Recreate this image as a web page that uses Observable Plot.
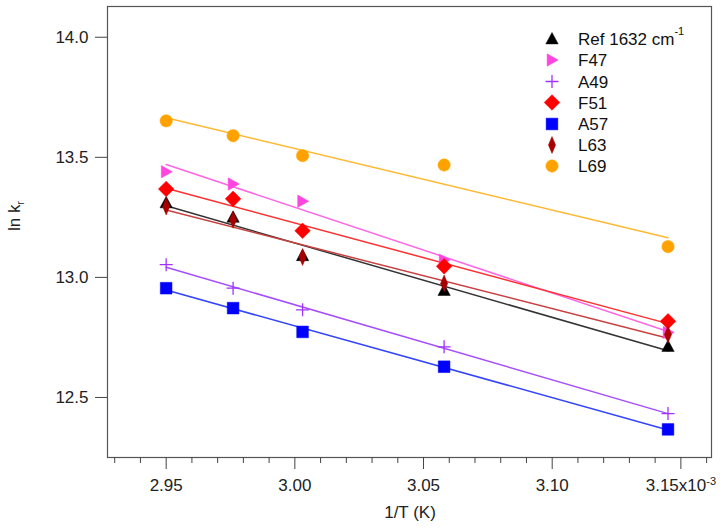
<!DOCTYPE html>
<html>
<head>
<meta charset="utf-8">
<script src="https://cdn.jsdelivr.net/npm/d3@7"></script>
<script src="https://cdn.jsdelivr.net/npm/@observablehq/plot@0.6"></script>
<style>
  html, body { margin: 0; padding: 0; background: #fff; }
  #chart { width: 720px; height: 529px; }
</style>
</head>
<body>
<div id="chart"></div>
<script>
// 1/T values (x10^-3 K^-1)
const invT = [2.950, 2.976, 3.003, 3.058, 3.145];

// ln k_r values per series
const seriesNames = ["Ref 1632 cm", "F47", "A49", "F51", "A57", "L63", "L69"];
const refVals = [13.310, 13.250, 13.090, 12.945, 12.712];
const f47Vals = [13.440, 13.389, 13.317, 13.072, 12.771];
const a49Vals = [13.053, 12.955, 12.865, 12.711, 12.433];
const f51Vals = [13.368, 13.327, 13.194, 13.046, 12.817];
const a57Vals = [12.955, 12.872, 12.773, 12.628, 12.367];
const l63Vals = [13.295, 13.240, 13.085, 12.975, 12.762];
const l69Vals = [13.652, 13.590, 13.507, 13.468, 13.128];

const markerColors = ["#000000", "#ff44e0", "#a033ff", "#ff0000", "#0000ff", "#a80000", "#ffa200"];
const lineColors   = ["#333333", "#ff66e6", "#a64dff", "#ff3030", "#3344ff", "#c84040", "#ffb833"];

const xMajorTicks = [2.95, 3.00, 3.05, 3.10, 3.15];
const xMinorTicks = [2.93, 2.94, 2.96, 2.97, 2.98, 2.99, 3.01, 3.02, 3.03, 3.04, 3.06, 3.07, 3.08, 3.09, 3.11, 3.12, 3.13, 3.14, 3.16];
const yTicks = [12.5, 13.0, 13.5, 14.0];

const allVals = [refVals, f47Vals, a49Vals, f51Vals, a57Vals, l63Vals, l69Vals];

// marker shapes (r = half size)
const shapes = {
  triUp(c, r) { c.moveTo(0, -r * 1.0); c.lineTo(r * 0.95, r * 0.75); c.lineTo(-r * 0.95, r * 0.75); c.closePath(); },
  triRight(c, r) { c.moveTo(r * 0.95, 0); c.lineTo(-r * 0.75, -r * 0.95); c.lineTo(-r * 0.75, r * 0.95); c.closePath(); },
  plus(c, r) { c.moveTo(-r, 0); c.lineTo(r, 0); c.moveTo(0, -r); c.lineTo(0, r); },
  diamond(c, r) { const a = r * 1.2; c.moveTo(0, -a); c.lineTo(a, 0); c.lineTo(0, a); c.lineTo(-a, 0); c.closePath(); },
  square(c, r) { const a = r * 0.9; c.moveTo(-a, -a); c.lineTo(a, -a); c.lineTo(a, a); c.lineTo(-a, a); c.closePath(); },
  thinDiamond(c, r) { c.moveTo(0, -r * 1.3); c.lineTo(r * 0.55, 0); c.lineTo(0, r * 1.3); c.lineTo(-r * 0.55, 0); c.closePath(); },
  circle(c, r) { const a = r * 0.95; c.moveTo(a, 0); c.arc(0, 0, a, 0, 2 * Math.PI); c.closePath(); }
};
const shapeNames = ["triUp", "triRight", "plus", "diamond", "square", "thinDiamond", "circle"];
const sym = name => ({ draw(ctx, size) { shapes[name](ctx, Math.sqrt(size / Math.PI)); } });

const rows = [];
seriesNames.forEach((s, i) => invT.forEach((x, j) => rows.push({ series: s, idx: i, x, y: allVals[i][j] })));

const marks = [];
seriesNames.forEach((s, i) => {
  marks.push(Plot.linearRegressionY(rows.filter(d => d.idx === i), { x: "x", y: "y", stroke: lineColors[i], strokeWidth: 1.5, ci: 0 }));
});
seriesNames.forEach((s, i) => {
  const isPlus = shapeNames[i] === "plus";
  marks.push(Plot.dot(rows.filter(d => d.idx === i), {
    x: "x", y: "y", r: 6.5, symbol: sym(shapeNames[i]),
    fill: isPlus ? "none" : markerColors[i],
    stroke: markerColors[i], strokeWidth: isPlus ? 1.3 : 0.5
  }));
});

const plot = Plot.plot({
  width: 720, height: 529,
  marginLeft: 107, marginRight: 9, marginTop: 6, marginBottom: 72,
  style: { fontFamily: "'Liberation Sans', Arial, sans-serif", fontSize: "17px", color: "#222", background: "#fff" },
  x: { domain: [2.9272, 3.1619] },
  y: { domain: [12.250, 14.128] },
  marks: [
    ...marks,
    Plot.frame({ stroke: "#555", strokeWidth: 1.2 }),
    Plot.axisY({ ticks: yTicks, tickFormat: d3.format(".1f"), tickSize: 12, tickPadding: 7, fontSize: 17, label: null, stroke: "#444" }),
    Plot.axisX({ ticks: xMajorTicks, tickFormat: d => d === 3.15 ? "3.15x10" : d3.format(".2f")(d), tickSize: 12, tickPadding: 9, fontSize: 17, label: null, stroke: "#444" }),
    Plot.axisX({ ticks: xMinorTicks, tickFormat: () => "", tickSize: 6, label: null, stroke: "#444" })
  ]
});
document.getElementById("chart").appendChild(plot);

const svg = d3.select(plot);
// superscript on last x tick label
svg.selectAll("text").filter(function () { return this.textContent === "3.15x10"; })
  .append("tspan").attr("dy", "-0.5em").attr("font-size", "11px").text("-3");

// axis titles
svg.append("text").attr("x", 410).attr("y", 518).attr("text-anchor", "middle")
  .attr("font-size", "17px").attr("fill", "#222").text("1/T (K)");
const yl = svg.append("text").attr("transform", "translate(20,216) rotate(-90)").attr("text-anchor", "middle")
  .attr("font-size", "17px").attr("fill", "#222");
yl.append("tspan").text("ln k");
yl.append("tspan").attr("font-size", "10px").attr("dy", "4").text("r");

// legend
const lg = svg.append("g").attr("font-size", "17px").attr("fill", "#111").attr("text-anchor", "start");
const legendY = [39, 60, 81.5, 102.5, 124, 145, 166];
seriesNames.forEach((s, i) => {
  const p = d3.path();
  shapes[shapeNames[i]](p, 6.5);
  const isPlus = shapeNames[i] === "plus";
  lg.append("path").attr("d", p.toString()).attr("transform", `translate(552,${legendY[i]})`)
    .attr("fill", isPlus ? "none" : markerColors[i]).attr("stroke", markerColors[i]).attr("stroke-width", isPlus ? 1.3 : 0.5);
  const t = lg.append("text").attr("x", 578).attr("y", legendY[i]).attr("dy", "0.36em").attr("text-anchor", "start").text(s);
  if (i === 0) t.append("tspan").attr("font-size", "11px").attr("dy", "-0.9em").text("-1");
});
</script>
</body>
</html>
